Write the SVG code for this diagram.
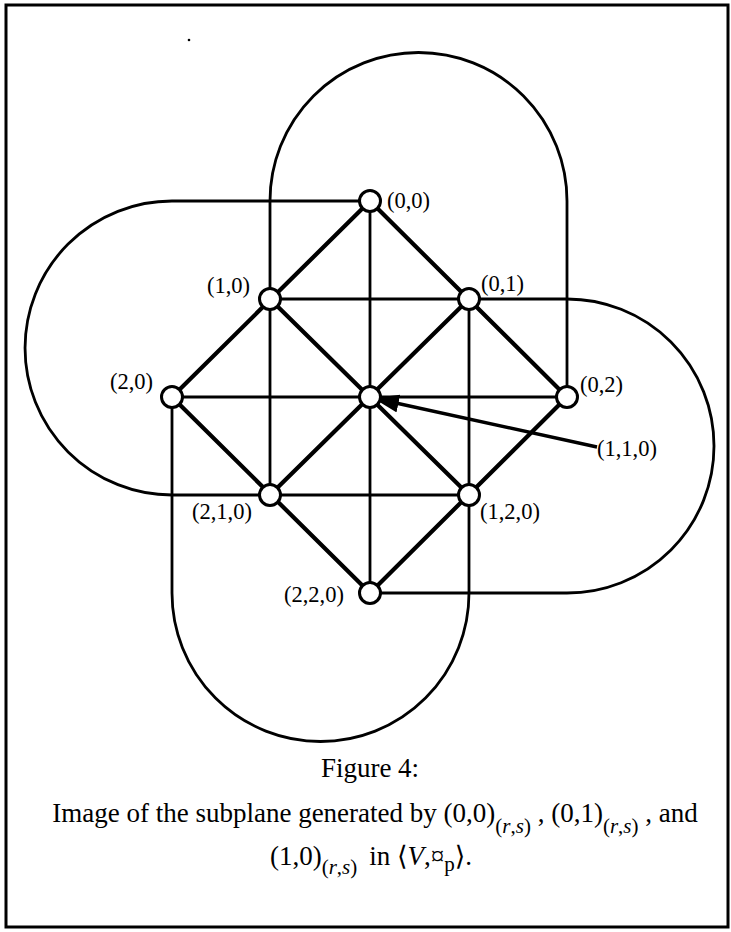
<svg xmlns="http://www.w3.org/2000/svg" width="731" height="932" viewBox="0 0 731 932">
<style>
.thick{stroke:#000;stroke-width:4.2;fill:none;stroke-linecap:round}
.thin{stroke:#000;stroke-width:2.8;fill:none}
.node{fill:#fff;stroke:#000;stroke-width:3}
.lbl{font-family:"Liberation Serif","DejaVu Serif",serif;font-size:22.5px;fill:#000}
.cap{font-family:"Liberation Serif","DejaVu Serif",serif;font-size:27px;fill:#000}
.sub{font-size:21px}
</style>
<defs>
<marker id="ah" markerUnits="userSpaceOnUse" markerWidth="30" markerHeight="22" refX="26" refY="9" orient="auto">
<path d="M0,0 L26,9 L0,18 z" fill="#000"/>
</marker>
</defs>
<rect x="6" y="5" width="722" height="922" fill="#fff" stroke="#000" stroke-width="3"/>
<circle cx="189" cy="40" r="1.3" fill="#000"/>
<g id="connectors">
<path class="thin" d="M370,201 V593"/>
<path class="thin" d="M172,397 H567"/>
<path class="thin" d="M270,495 V201 A148.5,148.5 0 0 1 567,201 V397"/>
<path class="thin" d="M370,201 H172 A147,147 0 0 0 172,495 H469"/>
<path class="thin" d="M172,397 V593 A148.5,148.5 0 0 0 469,593 V299"/>
<path class="thin" d="M270,299 H567 A147,147 0 0 1 567,593 H370"/>
<path class="thick" d="M370,201 L172,397"/>
<path class="thick" d="M370,201 L567,397"/>
<path class="thick" d="M270,299 L469,495"/>
<path class="thick" d="M469,299 L270,495"/>
<path class="thick" d="M172,397 L370,593"/>
<path class="thick" d="M567,397 L370,593"/>
<path d="M597,447 L373,398" stroke="#000" stroke-width="3.5" fill="none" marker-end="url(#ah)"/>
</g>
<g id="n00"><circle class="node" cx="370" cy="201" r="10.5"/><text class="lbl" x="387" y="208">(0,0)</text></g>
<g id="n10"><circle class="node" cx="270" cy="299" r="10.5"/><text class="lbl" x="207" y="293">(1,0)</text></g>
<g id="n01"><circle class="node" cx="469" cy="299" r="10.5"/><text class="lbl" x="481" y="291">(0,1)</text></g>
<g id="n20"><circle class="node" cx="172" cy="397" r="10.5"/><text class="lbl" x="110" y="389">(2,0)</text></g>
<g id="n110"><circle class="node" cx="370" cy="397" r="10.5"/><text class="lbl" x="597" y="456">(1,1,0)</text></g>
<g id="n02"><circle class="node" cx="567" cy="397" r="10.5"/><text class="lbl" x="580" y="392">(0,2)</text></g>
<g id="n210"><circle class="node" cx="270" cy="495" r="10.5"/><text class="lbl" x="192" y="519">(2,1,0)</text></g>
<g id="n120"><circle class="node" cx="469" cy="495" r="10.5"/><text class="lbl" x="480" y="519">(1,2,0)</text></g>
<g id="n220"><circle class="node" cx="370" cy="593" r="10.5"/><text class="lbl" x="284" y="602">(2,2,0)</text></g>
<g id="caption">
<text class="cap" x="370" y="777" text-anchor="middle">Figure 4:</text>
<text class="cap" x="375" y="822" text-anchor="middle">Image of the subplane generated by (0,0)<tspan class="sub" dy="11">(<tspan font-style="italic">r</tspan>,<tspan font-style="italic">s</tspan>)</tspan><tspan dy="-11"> , (0,1)</tspan><tspan class="sub" dy="11">(<tspan font-style="italic">r</tspan>,<tspan font-style="italic">s</tspan>)</tspan><tspan dy="-11"> , and</tspan></text>
<text class="cap" x="371" y="865" text-anchor="middle">(1,0)<tspan class="sub" dy="9">(<tspan font-style="italic">r</tspan>,<tspan font-style="italic">s</tspan>)</tspan><tspan dy="-9" dx="12">in ⟨<tspan font-style="italic">V</tspan>,¤</tspan><tspan class="sub" dy="6">p</tspan><tspan dy="-6">⟩.</tspan></text>
</g>
</svg>
